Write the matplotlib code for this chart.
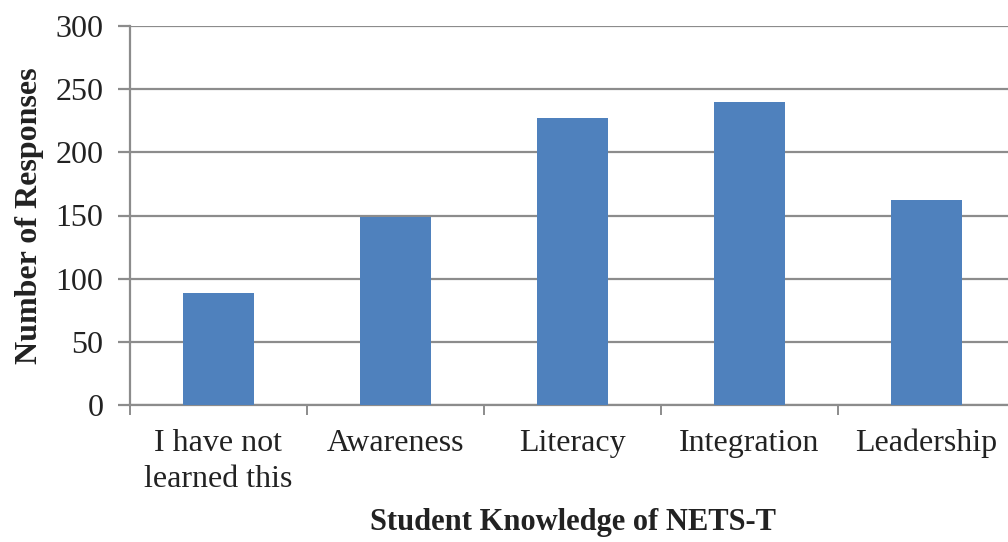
import matplotlib
matplotlib.use("Agg")
import matplotlib.pyplot as plt
import numpy as np

categories = ["I have not\nlearned this", "Awareness", "Literacy", "Integration", "Leadership"]
values = [89, 149, 227, 240, 162]
yticks = [0, 50, 100, 150, 200, 250, 300]

plt.rcParams['font.family'] = ['Liberation Serif', 'DejaVu Serif']

W, H = 1008, 542
fig = plt.figure(figsize=(W/100, H/100), dpi=100)
left, right, top, bottom = 130, 1015, 26, 405
ax = fig.add_axes([left/W, 1-bottom/H, (right-left)/W, (bottom-top)/H])

x = np.arange(len(categories))
ax.bar(x, values, width=0.4, color='#4F81BD', zorder=3)

ax.set_xlim(-0.5, len(categories)-0.5)
ax.set_ylim(0, 300)
ax.set_yticks(yticks)
ax.set_yticklabels([str(v) for v in yticks], fontsize=23, color='#222222')
ax.yaxis.grid(True, color='#8c8c8c', linewidth=1.6, zorder=0)
ax.set_axisbelow(True)

ax.set_xticks(x)
ax.set_xticklabels(categories, fontsize=23, color='#222222', linespacing=1.35)
ax.set_xticks(np.arange(len(categories)+1)-0.5, minor=True)
ax.tick_params(axis='x', which='major', length=0, pad=17)
ax.tick_params(axis='x', which='minor', length=7, color='#8c8c8c', width=1.4)
ax.tick_params(axis='y', length=9, color='#8c8c8c', width=1.6, pad=10)

for s in ['top', 'right']:
    ax.spines[s].set_visible(False)
ax.spines['left'].set_color('#8c8c8c')
ax.spines['left'].set_linewidth(1.6)
ax.spines['bottom'].set_color('#8c8c8c')
ax.spines['bottom'].set_linewidth(1.6)

ax.set_ylabel("Number of Responses", fontsize=23, fontweight='bold', color='#222222', labelpad=8)
ax.set_xlabel("Student Knowledge of NETS-T", fontsize=22, fontweight='bold', color='#222222', labelpad=10)

fig.savefig("out.png", dpi=100)
